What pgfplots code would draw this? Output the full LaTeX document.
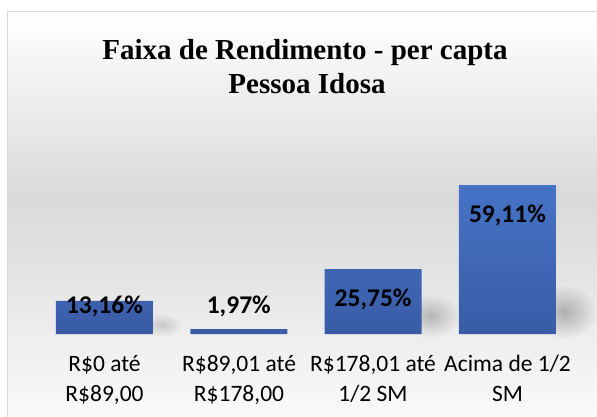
\documentclass[border=0pt]{standalone}
\usepackage{fontspec}
\setmainfont{Carlito}
\newfontfamily\titlefont{Liberation Serif}
\usepackage{pgfplots}
\pgfplotsset{compat=1.18}
\usetikzlibrary{fadings}
\tikzfading[name=softshadow, inner color=transparent!0, outer color=transparent!100]
\definecolor{bartop}{HTML}{4573C6}
\definecolor{barbot}{HTML}{3A5CA6}
\definecolor{bgmid}{HTML}{D9D9D9}
\definecolor{bgbot}{HTML}{FBFBFB}
\definecolor{frame}{HTML}{D9D9D9}
\begin{document}
\begin{tikzpicture}[x=1pt,y=1pt]
\useasboundingbox (0,0) rectangle (597,416);
% background
\shade[top color=white, bottom color=bgmid] (7,216) rectangle (620,404);
\shade[top color=bgmid, bottom color=bgbot] (7,-10) rectangle (620,216.2);
\draw[frame, line width=1pt] (7,-10) -- (7,404) -- (620,404);
% title
\node[anchor=base, font=\titlefont\bfseries\fontsize{29}{33}\selectfont] at (305,356) {Faixa de Rendimento - per capta};
\node[anchor=base, font=\titlefont\bfseries\fontsize{29}{33}\selectfont] at (307,323) {Pessoa Idosa};
\begin{axis}[
  at={(37.3pt,82pt)}, anchor=south west,
  scale only axis, width=537.3pt, height=151.2pt,
  xmin=-0.5, xmax=3.5, ymin=0, ymax=60,
  axis lines=none,
  clip=false,
  xtick=\empty,
  ytick=\empty,
  ]
% soft shadows to the right of the bars
\fill[black, opacity=0.15, path fading=softshadow] (axis cs:0.5,0) ++(-10pt,9pt) ellipse (20pt and 11pt);
\fill[black, opacity=0.22, path fading=softshadow] (axis cs:2.5,0) ++(-10pt,18pt) ellipse (30pt and 22pt);
\fill[black, opacity=0.25, path fading=softshadow] (axis cs:3.5,0) ++(-10pt,22pt) ellipse (32pt and 27pt);
\addplot[ybar, bar width=97pt, draw=none, top color=bartop, bottom color=barbot]
  coordinates {(0,13.16) (1,1.97) (2,25.75) (3,59.11)};
\addplot[draw=none, mark=none, nodes near coords, point meta=explicit symbolic,
  nodes near coords style={anchor=base, font=\bfseries\fontsize{25.5}{30}\selectfont, text=black}]
  coordinates {(0,7.94)[13,16\%] (1,7.94)[1,97\%] (2,11.1)[25,75\%] (3,44.05)[59,11\%]};
\end{axis}
% category labels
\foreach \xx/\la/\lb in {104.5/{R\$0 até}/{R\$89,00}, 239/{R\$89,01 até}/{R\$178,00}, 373/{R\$178,01 até}/{1/2 SM}, 507.5/{Acima de 1/2}/{SM}} {
  \node[anchor=base, font=\fontsize{23.5}{30}\selectfont, inner sep=0pt] at (\xx,45) {\la};
  \node[anchor=base, font=\fontsize{23.5}{30}\selectfont, inner sep=0pt] at (\xx,15) {\lb};
}
\end{tikzpicture}
\end{document}
